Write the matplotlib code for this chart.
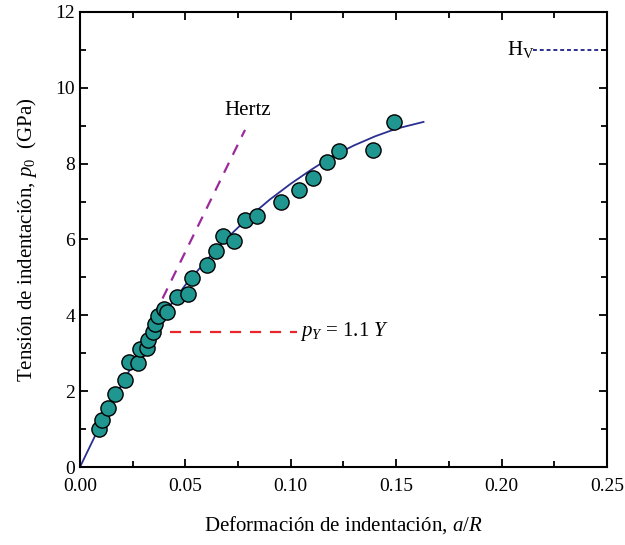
import matplotlib
matplotlib.use('Agg')
import matplotlib.pyplot as plt
from matplotlib.ticker import MultipleLocator

plt.rcParams['font.family'] = ['Liberation Serif', 'DejaVu Serif']
plt.rcParams['mathtext.fontset'] = 'custom'
plt.rcParams['mathtext.rm'] = 'Liberation Serif'
plt.rcParams['mathtext.it'] = 'Liberation Serif:italic'

# measured points (a/R, p0 in GPa)
strain = [0.0090, 0.0103, 0.0134, 0.0166, 0.0213, 0.0232, 0.0277, 0.0283, 0.0316,
          0.0324, 0.0345, 0.0356, 0.0371, 0.0400, 0.0411, 0.0462, 0.0511, 0.0530,
          0.0601, 0.0644, 0.0680, 0.0732, 0.0783, 0.0838, 0.0952, 0.1040, 0.1107,
          0.1170, 0.1229, 0.1389, 0.1491]
stress = [1.00, 1.24, 1.56, 1.93, 2.29, 2.76, 2.75, 3.10, 3.15,
          3.35, 3.57, 3.76, 3.98, 4.16, 4.10, 4.48, 4.55, 4.98,
          5.33, 5.70, 6.09, 5.96, 6.51, 6.62, 6.98, 7.30, 7.61,
          8.05, 8.33, 8.36, 9.11]

# fitted curve
fit_x = [0.0, 0.01, 0.02, 0.03, 0.04, 0.05, 0.06, 0.07, 0.08, 0.09, 0.10,
         0.11, 0.12, 0.13, 0.14, 0.15, 0.163]
fit_y = [0.0, 1.15, 2.2, 3.2, 4.05, 4.8, 5.45, 6.05, 6.58, 7.05, 7.47,
         7.85, 8.2, 8.48, 8.72, 8.92, 9.1]

hertz_x = [0.035, 0.0783]
hertz_y = [3.97, 8.89]

py_x = [0.033, 0.1028]
py_y = [3.57, 3.57]

hv_x = [0.215, 0.25]
hv_y = [11.0, 11.0]

fig = plt.figure(figsize=(6.25, 5.45), dpi=100)
ax = fig.add_axes([0.128, 0.1431, 0.843, 0.835])

ax.plot(fit_x, fit_y, color='#2b2f8f', lw=1.3, zorder=2)
ax.plot(hertz_x, hertz_y, color='#9b2a9b', lw=1.6, ls=(0, (5, 4)), zorder=1)
ax.plot(py_x, py_y, color='#e8262b', lw=1.6, ls=(0, (5, 4)), zorder=1)
ax.plot(hv_x, hv_y, color='#2b2f8f', lw=1.4, ls=(0, (2, 1.5)), zorder=1)
ax.scatter(strain, stress, s=120, facecolor='#1f9690', edgecolor='black',
           linewidth=1.0, zorder=3)

ax.text(0.0685, 9.4, 'Hertz', fontsize=15, va='center')
ax.text(0.1045, 3.57, r'$p_Y$ = 1.1 $Y$', fontsize=15, va='center')
ax.text(0.2025, 11.0, r'H$_\mathrm{V}$', fontsize=15, va='center')

ax.set_xlim(0, 0.25)
ax.set_ylim(0, 12)
ax.xaxis.set_major_locator(MultipleLocator(0.05))
ax.xaxis.set_minor_locator(MultipleLocator(0.025))
ax.yaxis.set_major_locator(MultipleLocator(2))
ax.yaxis.set_minor_locator(MultipleLocator(1))
ax.xaxis.set_major_formatter(plt.FormatStrFormatter('%.2f'))
ax.tick_params(which='both', direction='in', top=True, right=True, labelsize=14, width=1.3)
ax.tick_params(which='major', length=6)
ax.tick_params(which='minor', length=4)
ax.tick_params(axis='x', pad=8)
for sp in ax.spines.values():
    sp.set_linewidth(1.5)

ax.set_xlabel(r'Deformación de indentación, $a/R$', fontsize=15, labelpad=14)
ax.set_ylabel(r'Tensión de indentación, $p_0$  (GPa)', fontsize=15, labelpad=12)

fig.savefig('out.png', dpi=100)
